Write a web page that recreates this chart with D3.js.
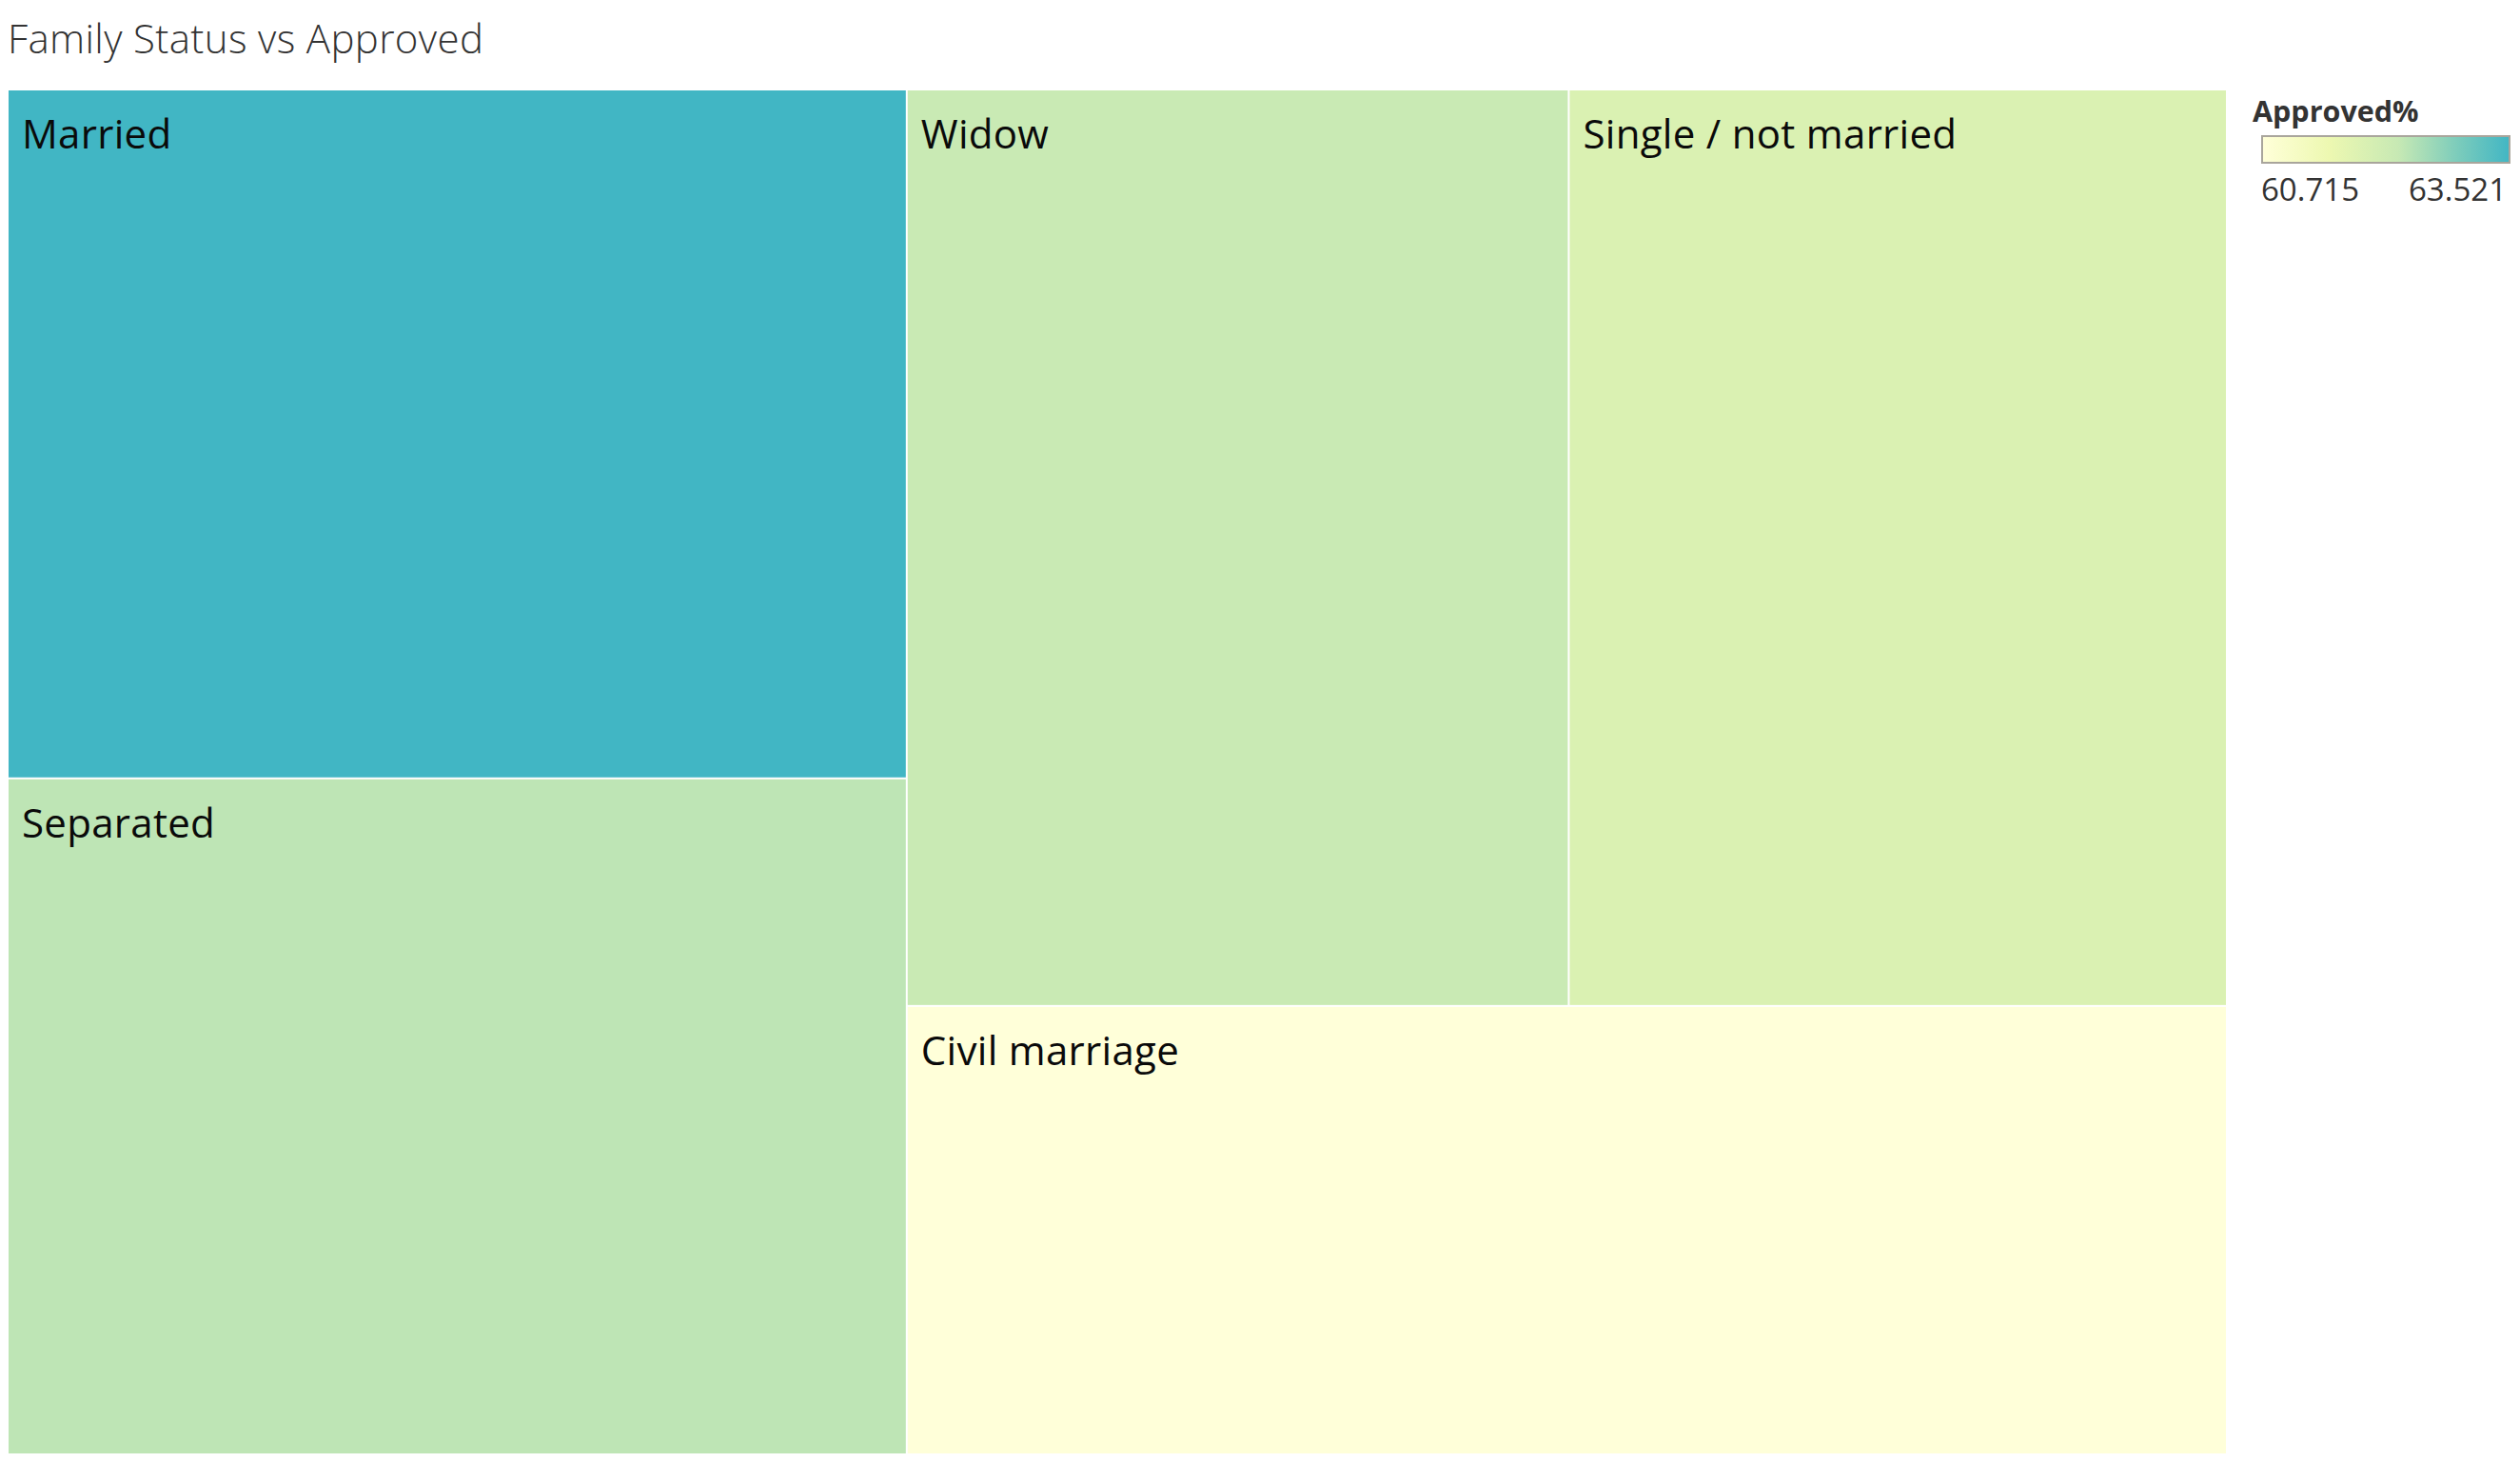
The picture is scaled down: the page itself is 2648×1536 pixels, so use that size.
<!DOCTYPE html>
<html>
<head>
<meta charset="utf-8">
<script src="https://cdn.jsdelivr.net/npm/d3@7"></script>
<style>
  html, body { margin: 0; padding: 0; background: #ffffff; }
  svg { display: block; }
</style>
</head>
<body>
<svg id="chart" width="2648" height="1536"></svg>
<script>
// ---- data ----
const categories = ["Married", "Separated", "Widow", "Single / not married", "Civil marriage"];
const approvedPct = [63.521, 62.34, 62.22, 61.86, 60.715];
const legendTicks = ["60.715", "63.521"];
const colorStops = ["#ffffd9", "#edf8b1", "#c7e9b4", "#7fcdbb", "#41b6c4"];
const colorStopPos = [0, 0.27, 0.55, 0.78, 1];

const FONT = "'Open Sans', 'Noto Sans', sans-serif";
const svg = d3.select("#chart");

// title
svg.append("text")
  .attr("x", 8).attr("y", 56)
  .attr("font-family", FONT)
  .attr("font-weight", 300)
  .attr("font-size", 42)
  .attr("letter-spacing", 0.35)
  .attr("fill", "#333333")
  .text("Family Status vs Approved");

// color scale
const vmin = d3.min(approvedPct), vmax = d3.max(approvedPct);
const tScale = d3.scaleLinear().domain([vmin, vmax]).range([0, 1]);
const stopScale = d3.scaleLinear().domain(colorStopPos).range(colorStops).interpolate(d3.interpolateRgb);
const color = v => stopScale(tScale(v));

// treemap
const data = {name: "root", children: categories.map((c, i) => ({name: c, value: approvedPct[i]}))};
const root = d3.hierarchy(data).sum(d => d.value || 0);
const tmX = 9, tmY = 95, tmW = 2330, tmH = 1432;
d3.treemap().tile(d3.treemapSquarify).size([tmW, tmH]).paddingInner(2).round(false)(root);

const g = svg.append("g").attr("transform", `translate(${tmX},${tmY})`);
const cells = g.selectAll("g.cell").data(root.leaves()).join("g").attr("class", "cell");
cells.append("rect")
  .attr("x", d => d.x0).attr("y", d => d.y0)
  .attr("width", d => d.x1 - d.x0).attr("height", d => d.y1 - d.y0)
  .attr("fill", d => color(d.data.value));
cells.append("text")
  .attr("x", d => d.x0 + 14).attr("y", d => d.y0 + 61)
  .attr("font-family", FONT)
  .attr("font-size", 42)
  .attr("letter-spacing", 0.3)
  .attr("fill", "#0a0a0a")
  .text(d => d.data.name);

// legend
const lg = svg.append("g");
lg.append("text")
  .attr("x", 2367).attr("y", 128)
  .attr("font-family", FONT)
  .attr("font-weight", 700)
  .attr("font-size", 30.5)
  .attr("fill", "#333333")
  .text("Approved%");
const defs = svg.append("defs");
const grad = defs.append("linearGradient").attr("id", "lgGrad").attr("x1", "0%").attr("x2", "100%");
colorStops.forEach((c, i) => grad.append("stop").attr("offset", (colorStopPos[i] * 100) + "%").attr("stop-color", c));
const lx = d3.scaleLinear().domain([vmin, vmax]).range([2377, 2637]);
lg.append("rect")
  .attr("x", lx(vmin)).attr("y", 143)
  .attr("width", lx(vmax) - lx(vmin)).attr("height", 28)
  .attr("fill", "url(#lgGrad)")
  .attr("stroke", "#a9a59c").attr("stroke-width", 2);
lg.append("text")
  .attr("x", lx(vmin) - 1).attr("y", 211)
  .attr("font-family", FONT)
  .attr("font-size", 33).attr("fill", "#333333")
  .text(legendTicks[0]);
lg.append("text")
  .attr("x", lx(vmax) - 3).attr("y", 211)
  .attr("text-anchor", "end")
  .attr("font-family", FONT)
  .attr("font-size", 33).attr("fill", "#333333")
  .text(legendTicks[1]);
</script>
</body>
</html>
